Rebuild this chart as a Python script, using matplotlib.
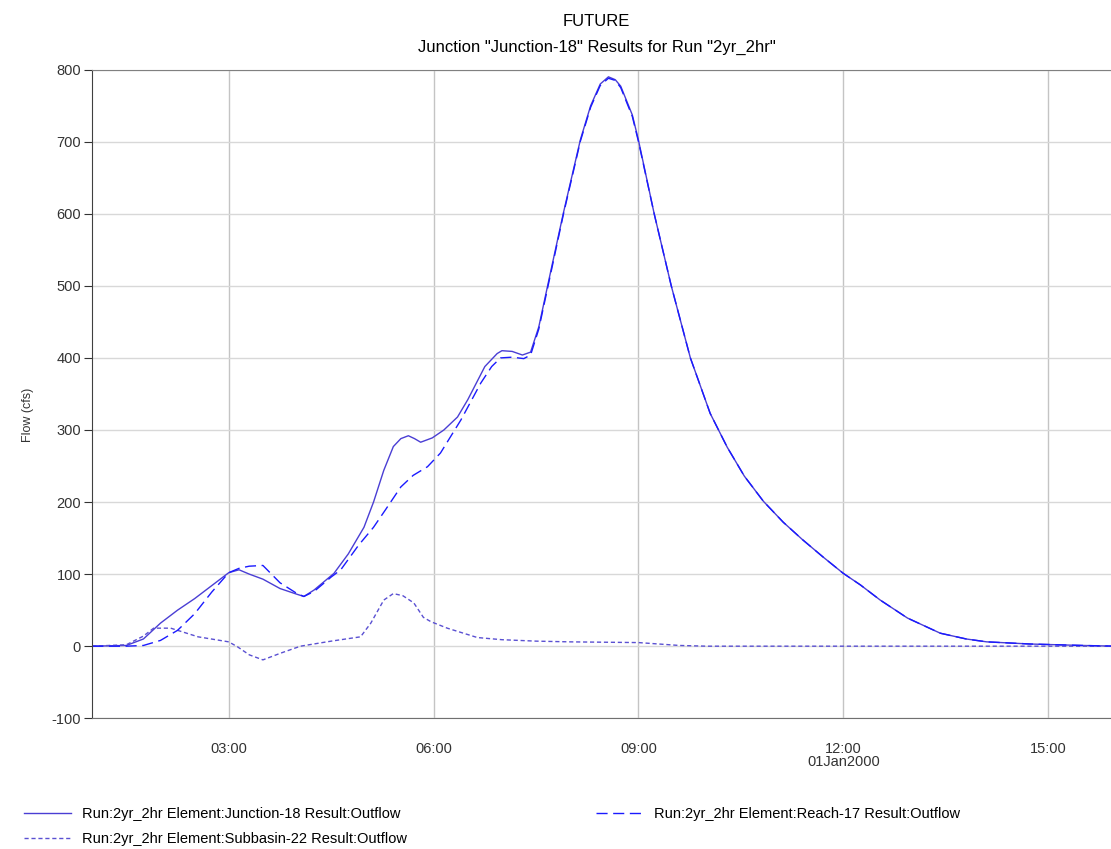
import matplotlib.pyplot as plt

plt.rcParams['font.family'] = ['Liberation Sans', 'DejaVu Sans']
plt.rcParams['axes.unicode_minus'] = False

# time in hours on 01Jan2000
t_junction = [1.0, 1.5, 1.75, 2.0, 2.25, 2.5, 2.75, 3.0, 3.15, 3.3, 3.5, 3.75, 4.0, 4.1,
              4.25, 4.54, 4.75, 4.98, 5.12, 5.27, 5.41, 5.52, 5.63, 5.72, 5.81, 5.98,
              6.15, 6.35, 6.5, 6.75, 6.93, 7.0, 7.15, 7.3, 7.42, 7.54, 7.71, 7.9, 8.15,
              8.3, 8.44, 8.56, 8.66, 8.74, 8.91, 9.0]
junction_18 = [0, 1, 10, 32, 50, 66, 84, 102, 106, 100, 93, 80, 72, 69,
               78, 101, 128, 165, 200, 244, 277, 288, 292, 288, 283, 289,
               300, 318, 342, 388, 406, 410, 409, 404, 408, 443, 518, 601, 703,
               750, 780, 790, 786, 777, 737, 702]

t_reach = [1.0, 1.5, 1.75, 2.0, 2.25, 2.5, 2.75, 3.0, 3.15, 3.3, 3.5, 3.75, 4.0, 4.1,
           4.25, 4.5, 4.64, 4.9, 5.12, 5.3, 5.52, 5.7, 5.91, 6.1, 6.4, 6.69, 6.85,
           6.98, 7.15, 7.32, 7.42, 7.54, 7.71, 7.9, 8.15, 8.3, 8.44, 8.56, 8.66, 8.74,
           8.91, 9.0]
reach_17 = [0, 0, 1, 8, 22, 45, 75, 102, 108, 111, 112, 88, 73, 69,
            76, 96, 106, 140, 165, 190, 221, 237, 249, 268, 314, 365, 388,
            400, 401, 399, 404, 440, 515, 599, 701, 748, 778, 788, 785, 775,
            735, 700]

# recession limb, shared by junction and reach
t_recession = [9.23, 9.48, 9.76, 10.05, 10.3, 10.55, 10.83, 11.12, 11.4, 11.7, 12.0, 12.25,
               12.54, 12.94, 13.42, 13.8, 14.1, 14.74, 15.5, 16.0]
recession = [600, 500, 400, 323, 276, 236, 201, 172, 148, 124, 101, 85,
             64, 39, 18, 10, 6, 3, 1, 0]

t_sub = [1.0, 1.5, 1.75, 1.9, 2.15, 2.55, 3.0, 3.13, 3.3, 3.5, 3.75, 4.05, 4.5, 4.93,
         5.08, 5.27, 5.41, 5.55, 5.71, 5.85, 5.96, 6.2, 6.64, 7.0, 7.5, 8.0, 9.0, 9.3,
         9.6, 10.0, 16.0]
subbasin_22 = [0, 2, 14, 25, 25, 13, 6, -1, -12, -19, -10, 0, 7, 13,
               32, 64, 73, 70, 60, 40, 34, 25, 12, 9, 7, 6, 5, 3,
               1, 0, 0]

x_ticks = [3, 6, 9, 12, 15]
x_labels = ['03:00', '06:00', '09:00', '12:00', '15:00']
y_ticks = [-100, 0, 100, 200, 300, 400, 500, 600, 700, 800]

fig = plt.figure(figsize=(11.11, 8.49), dpi=100)
ax = fig.add_axes([0.083, 0.154, 0.917, 0.764])

l1, = ax.plot(t_junction + t_recession, junction_18 + recession, color='#4a3ed4', lw=1.0,
              label='Run:2yr_2hr Element:Junction-18 Result:Outflow')
l3, = ax.plot(t_sub, subbasin_22, color='#5a50d2', lw=1.0, linestyle=(0, (3, 2)),
              label='Run:2yr_2hr Element:Subbasin-22 Result:Outflow')
l2, = ax.plot(t_reach + t_recession, reach_17 + recession, color='#1a1aff', lw=1.0,
              linestyle=(0, (8, 4)),
              label='Run:2yr_2hr Element:Reach-17 Result:Outflow')

ax.set_xlim(1, 15.92)
ax.set_ylim(-100, 800)
ax.set_xticks(x_ticks)
ax.set_xticklabels(x_labels)
ax.set_yticks(y_ticks)
ax.grid(True, axis='y', color='#d8d8d8', lw=1.0)
ax.grid(True, axis='x', color='#c4c4c4', lw=1.0)
ax.set_axisbelow(True)
ax.tick_params(axis='y', labelsize=10.5, colors='#333333', length=6, pad=2)
ax.tick_params(axis='x', labelsize=10.5, colors='#333333', length=0, pad=17)
ax.spines['top'].set_color('#808080')
ax.spines['bottom'].set_color('#707070')
ax.spines['left'].set_color('#404040')
ax.spines['right'].set_visible(False)

fig.text(28 / 1111, 1 - 415 / 849, 'Flow (cfs)', rotation=90, ha='center', va='center',
         fontsize=9, color='#333333')
ax.text(12, -0.068, '01Jan2000', transform=ax.get_xaxis_transform(),
        ha='center', va='center', fontsize=10.5, color='#333333')

fig.text(0.537, 1 - 22 / 849, 'FUTURE', ha='center', va='center', fontsize=12)
fig.text(0.537, 1 - 47 / 849, 'Junction "Junction-18" Results for Run "2yr_2hr"',
         ha='center', va='center', fontsize=12)

fig.legend(handles=[l1, l3, l2], loc='lower left', bbox_to_anchor=(0.010, -0.012),
           ncol=2, frameon=False, fontsize=10.5, handlelength=3.2,
           columnspacing=13.0, labelspacing=0.75, handletextpad=0.75)

fig.savefig('out.png', dpi=100)
